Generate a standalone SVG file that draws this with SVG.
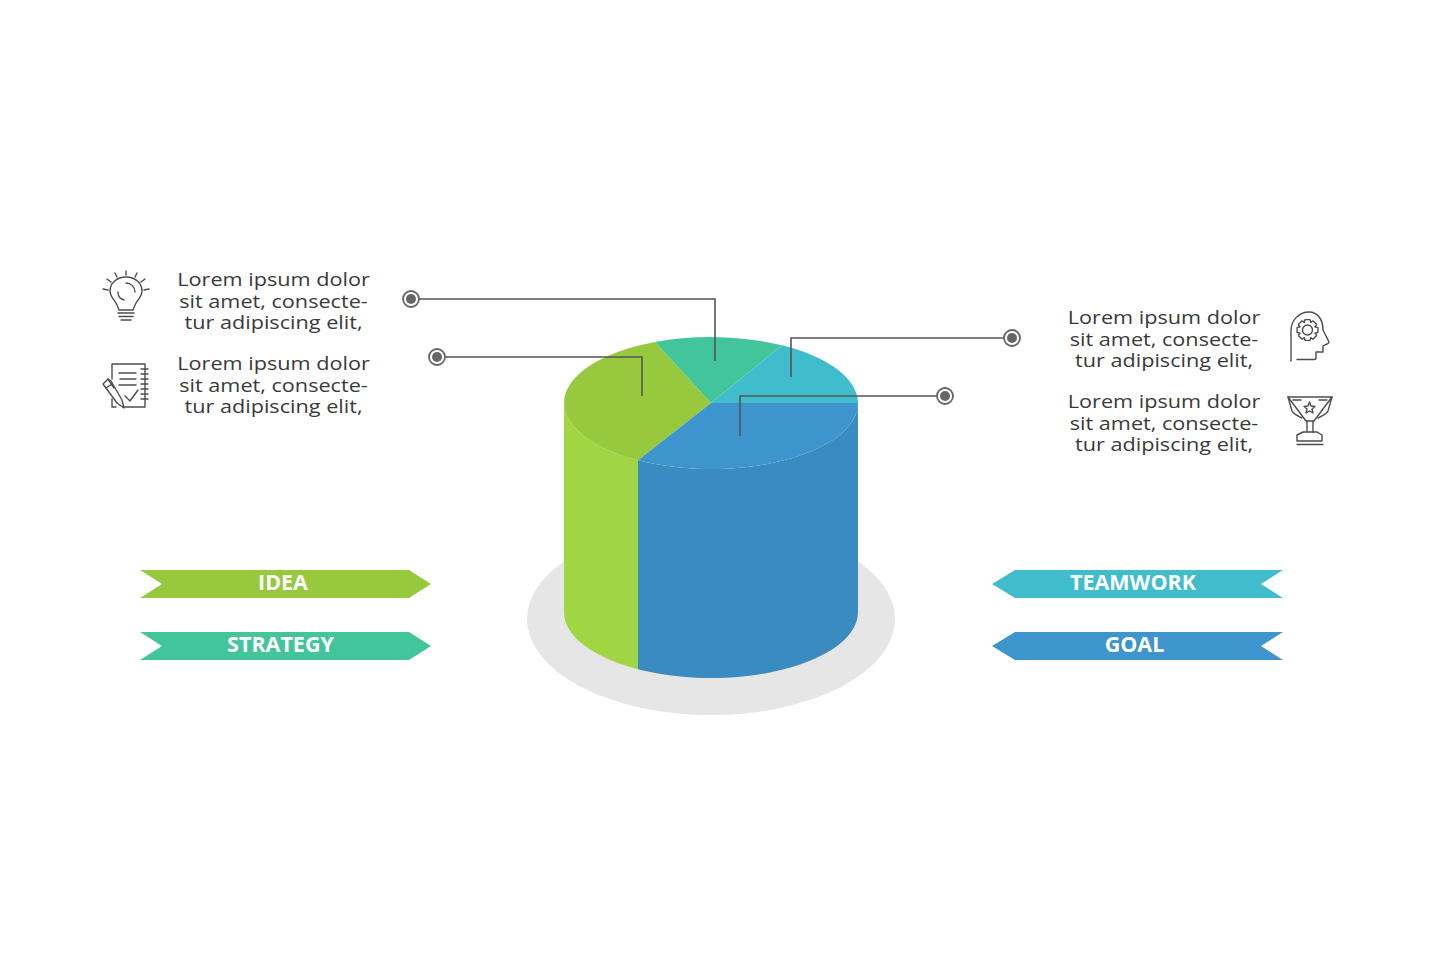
<svg xmlns="http://www.w3.org/2000/svg" width="1435" height="980" viewBox="0 0 1435 980">
<style>
.body{font-family:"Open Sans","Liberation Sans",sans-serif;font-size:19px;fill:#3a3a3a;text-anchor:middle}
.tag{font-family:"Open Sans","Liberation Sans",sans-serif;font-size:21.5px;font-weight:700;fill:#fff;text-anchor:middle}
.ic{fill:none;stroke:#4d4d4d;stroke-width:1.4;stroke-linecap:round;stroke-linejoin:round}
.wire{fill:none;stroke:#555;stroke-width:1.6}
.dot-o{fill:#fff;stroke:#666;stroke-width:1.8}
.dot-i{fill:#666}
</style>
<defs>
<path id="tooth" d="M-3.4,-7.6L-2.4,-10.400H2.400L3.400,-7.600"/>
</defs>
<rect width="1435" height="980" fill="#fff"/>
<g id="cylinder">
<ellipse cx="711" cy="619" rx="184" ry="96" fill="#e6e6e6"/>
<path d="M564,403V612A147,66 0 0 0 638,669.300V460.300A147,66 0 0 1 564,403Z" fill="#a0d643"/>
<path d="M638,460.300A147,66 0 0 0 858,403V612A147,66 0 0 1 638,669.300Z" fill="#3a8cc0"/>
<path d="M711,403L638,460.300A147,66 0 0 1 655,342Z" fill="#96c93d"/>
<path d="M711,403L655,342A147,66 0 0 1 782,345.300Z" fill="#43c59b"/>
<path d="M711,403L782,345.300A147,66 0 0 1 858,403Z" fill="#3fbdcc"/>
<path d="M711,403H858A147,66 0 0 1 638,460.300Z" fill="#3e94cd"/>
</g>
<g id="connectors">
<path class="wire" d="M419,299H715V361"/>
<path class="wire" d="M445,357H642V396"/>
<path class="wire" d="M1004,338H791V377"/>
<path class="wire" d="M937,396H740V436"/>
</g>
<g id="dot-1"><circle class="dot-o" cx="411" cy="299" r="8"/><circle class="dot-i" cx="411" cy="299" r="5"/></g>
<g id="dot-2"><circle class="dot-o" cx="437" cy="357" r="8"/><circle class="dot-i" cx="437" cy="357" r="5"/></g>
<g id="dot-3"><circle class="dot-o" cx="1012" cy="338" r="8"/><circle class="dot-i" cx="1012" cy="338" r="5"/></g>
<g id="dot-4"><circle class="dot-o" cx="945" cy="396" r="8"/><circle class="dot-i" cx="945" cy="396" r="5"/></g>
<g id="text-1" transform="translate(273.500,0) scale(1.14,1)"><text class="body" x="0" y="286">Lorem ipsum dolor</text><text class="body" x="0" y="308">sit amet, consecte-</text><text class="body" x="0" y="329">tur adipiscing elit,</text></g>
<g id="text-2" transform="translate(273.500,0) scale(1.14,1)"><text class="body" x="0" y="370">Lorem ipsum dolor</text><text class="body" x="0" y="392">sit amet, consecte-</text><text class="body" x="0" y="413">tur adipiscing elit,</text></g>
<g id="text-3" transform="translate(1164,0) scale(1.14,1)"><text class="body" x="0" y="324">Lorem ipsum dolor</text><text class="body" x="0" y="346">sit amet, consecte-</text><text class="body" x="0" y="367">tur adipiscing elit,</text></g>
<g id="text-4" transform="translate(1164,0) scale(1.14,1)"><text class="body" x="0" y="408">Lorem ipsum dolor</text><text class="body" x="0" y="430">sit amet, consecte-</text><text class="body" x="0" y="451">tur adipiscing elit,</text></g>
<g id="icon-bulb" class="ic">
<path d="M119,310L117,305C115,300 110,297 110,291C110,283 117,277 126,277C135,277 142,283 142,291C142,297 137,300 135,305L133,310Z"/>
<path d="M126,283C131,283 135,287 135,292"/>
<path d="M118,292C118,296 120,299 124,300"/>
<path d="M118,313H134M119,316.500H133M121,320H131"/>
<path d="M126,271V275M115,273L117,277M137,273L135,277M107,279L111,282M145,279L141,282M103,289L108,290M149,289L144,290"/>
</g>
<g id="icon-note" class="ic">
<path d="M112,379V364H145V407H123M116,407H112V399"/>
<path d="M119,373H136M120,379H136M119,385H136"/>
<path d="M125,396L130,401L138,390"/>
<path d="M141,369H148M141,374H148M141,379H148M141,384H148M141,389H148M141,394H148M141,399H148"/>
<path d="M103,384L108,379L111,381L122,400L124,408L117,403L106,388Z"/>
<path d="M106,388L112,384M108,379L114,388"/>
</g>
<g id="icon-head" class="ic">
<path d="M1291,361V331C1291,320 1299,312 1309,312C1318,312 1323,320 1323,330L1329,342C1329,344 1324,345 1323,346L1323,352H1316V358C1316,359 1315,359.500 1314,359.500H1297"/>
<g transform="translate(1307.500,330)">
<circle r="5"/>
<use href="#tooth"/>
<use href="#tooth" transform="rotate(45)"/>
<use href="#tooth" transform="rotate(90)"/>
<use href="#tooth" transform="rotate(135)"/>
<use href="#tooth" transform="rotate(180)"/>
<use href="#tooth" transform="rotate(225)"/>
<use href="#tooth" transform="rotate(270)"/>
<use href="#tooth" transform="rotate(315)"/>
</g>
</g>
<g id="icon-trophy" class="ic">
<path d="M1288,397H1332L1314,421H1306Z"/>
<path d="M1293,400H1301M1319,400H1327"/>
<path d="M1288,397L1292,411C1293,414 1298,416 1302,418M1332,397L1328,411C1327,414 1322,416 1318,418"/>
<path d="M1307,421V432M1313,421V432"/>
<path d="M1303,432H1317L1322,435V441H1297V435Z"/>
<path d="M1297,444.500H1323"/>
<path d="M1309.500,402L1311,406L1315,406.500L1312,409L1313,413L1309.500,411L1306,413L1307,409L1304,406.500L1308,406Z"/>
</g>
<g id="tag-idea"><path d="M140,570H409L431,584L409,598H140L162,584Z" fill="#96c93d"/><text class="tag" x="283" y="590">IDEA</text></g>
<g id="tag-strategy"><path d="M140,632H409L431,646L409,660H140L162,646Z" fill="#43c59b"/><text class="tag" x="280.500" y="652">STRATEGY</text></g>
<g id="tag-teamwork"><path d="M1283,570H1015L992,584L1015,598H1283L1261,584Z" fill="#3fbdcc"/><text class="tag" x="1133" y="590">TEAMWORK</text></g>
<g id="tag-goal"><path d="M1283,632H1015L992,646L1015,660H1283L1261,646Z" fill="#3e94cd"/><text class="tag" x="1134.500" y="652">GOAL</text></g>
</svg>
